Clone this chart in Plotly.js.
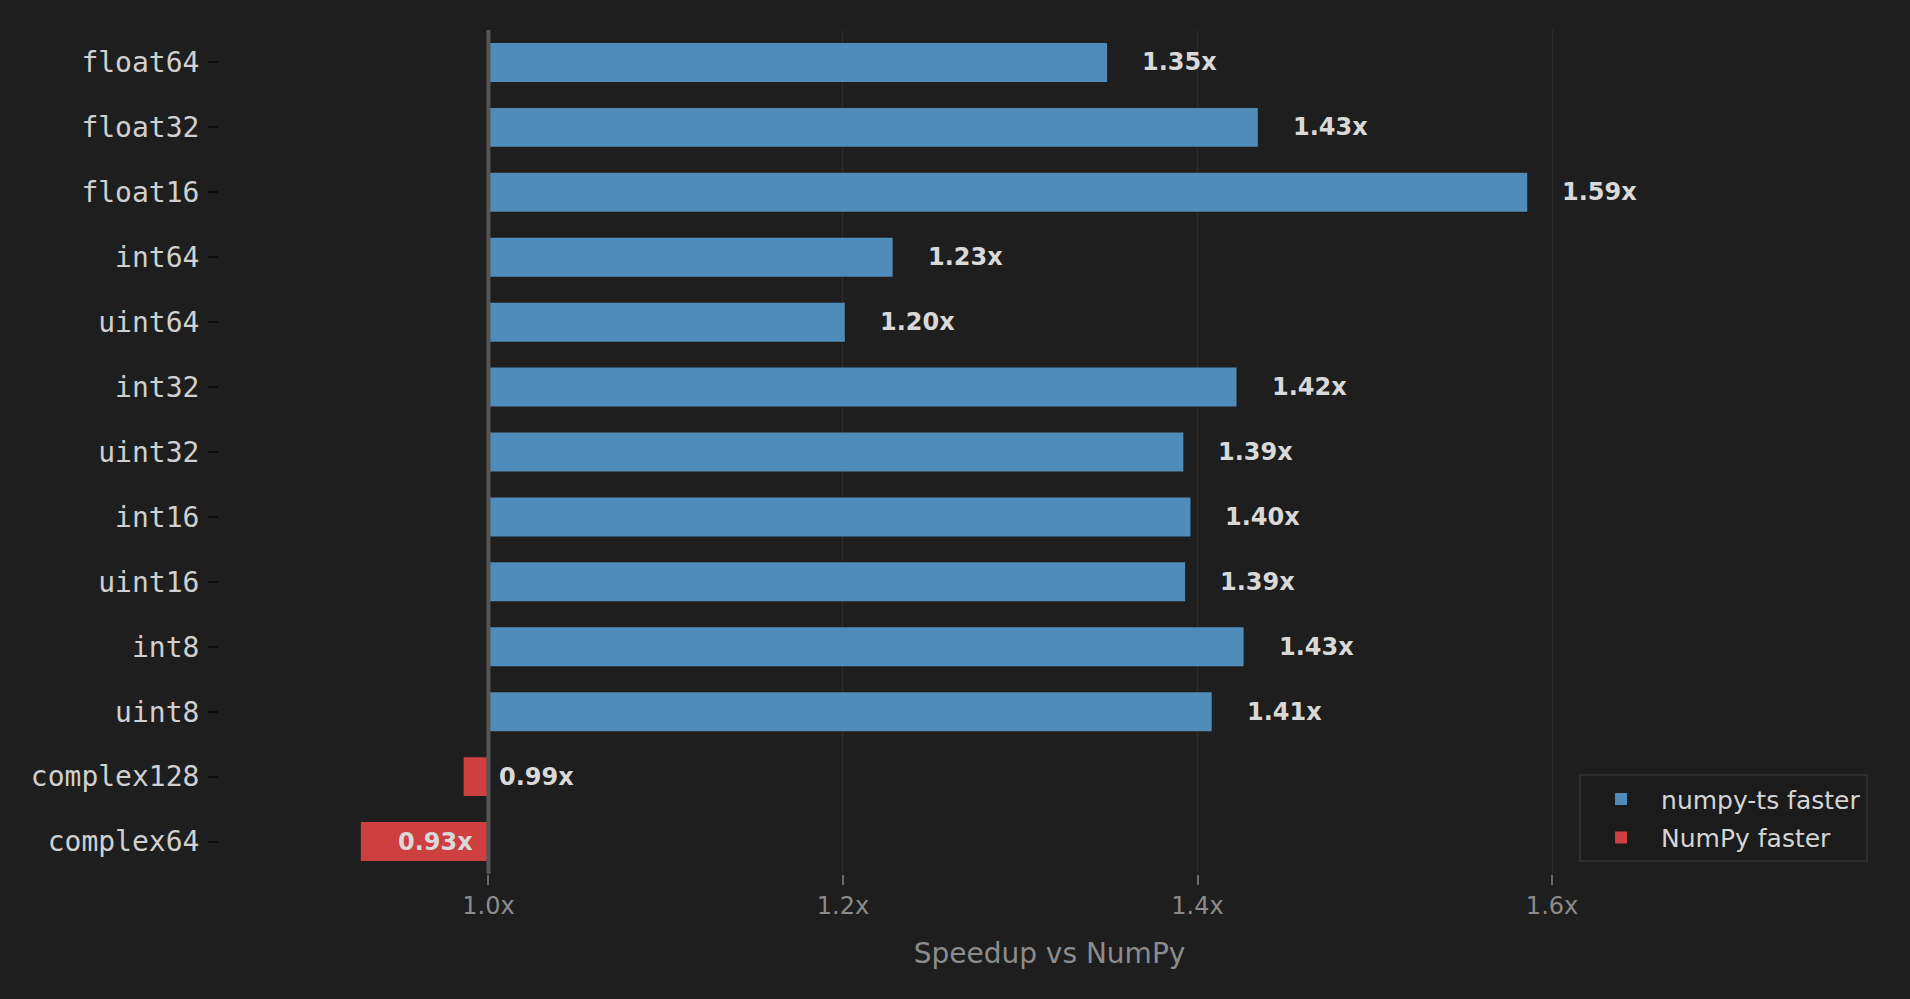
<!DOCTYPE html>
<html>
<head>
<meta charset="utf-8">
<script src="https://cdn.plot.ly/plotly-3.0.1.min.js"></script>
<style>
  html, body { margin: 0; padding: 0; background: #1e1e1e; }
  #speedup-chart { width: 1910px; height: 999px; }
</style>
</head>
<body>
<div id="speedup-chart"></div>
<script>
// Data
const dtypes = ["float64", "float32", "float16", "int64", "uint64", "int32", "uint32",
  "int16", "uint16", "int8", "uint8", "complex128", "complex64"];
const speedups = [1.349, 1.434, 1.586, 1.228, 1.201, 1.422, 1.392,
  1.396, 1.393, 1.426, 1.408, 0.986, 0.928];
const speedupLabels = ["1.35x", "1.43x", "1.59x", "1.23x", "1.20x", "1.42x", "1.39x",
  "1.40x", "1.39x", "1.43x", "1.41x", "0.99x", "0.93x"];
const xTickValues = [1.0, 1.2, 1.4, 1.6];
const xTickLabels = ["1.0x", "1.2x", "1.4x", "1.6x"];
const seriesNames = ["numpy-ts faster", "NumPy faster"];

const BASELINE = 1.0;
const CHART_ID = "speedup-chart";

// Colours
const FASTER_COLOR = "#4f8cb9";
const SLOWER_COLOR = "#ce3f3f";
const BG_COLOR = "#1e1e1e";

// one trace per legend entry, bars drawn from the 1.0x baseline
function makeTrace(name, color, keep) {
  const y = [];
  const x = [];
  dtypes.forEach((d, i) => {
    if (keep(speedups[i])) {
      y.push(d);
      x.push(speedups[i] - BASELINE);
    }
  });
  return {
    type: "bar",
    orientation: "h",
    name: name,
    legendgroup: name,
    y: y,
    x: x,
    base: BASELINE,
    width: 0.6,
    marker: { color: color, line: { width: 0 } },
    hoverinfo: "skip",
  };
}

const traces = [
  makeTrace(seriesNames[0], FASTER_COLOR, (v) => v >= BASELINE),
  makeTrace(seriesNames[1], SLOWER_COLOR, (v) => v < BASELINE),
];

// value labels
const annotations = dtypes.map((d, i) => {
  const v = speedups[i];
  const ann = {
    y: d,
    yref: "y",
    xref: "x",
    text: speedupLabels[i],
    showarrow: false,
    font: { family: "DejaVu Sans", size: 24, color: "#d9d9d9", weight: "bold" },
    yanchor: "middle",
  };
  if (v >= BASELINE) {
    ann.x = v;
    ann.xanchor = "left";
    ann.xshift = 33;
  } else if (BASELINE - v < 0.03) {
    // bar too short, label goes to the right of the baseline
    ann.x = BASELINE;
    ann.xanchor = "left";
    ann.xshift = 9;
  } else {
    ann.x = BASELINE;
    ann.xanchor = "right";
    ann.xshift = -13;
  }
  return ann;
});

const layout = {
  width: 1910,
  height: 999,
  paper_bgcolor: BG_COLOR,
  plot_bgcolor: BG_COLOR,
  margin: { l: 219, r: 30, t: 30, b: 125 },
  barmode: "overlay",
  showlegend: true,
  legend: {
    x: 0.9928,
    y: 0.014,
    xanchor: "right",
    yanchor: "bottom",
    bgcolor: "#1b1b1b",
    bordercolor: "#2e2e2e",
    borderwidth: 2,
    itemwidth: 70,
    font: { family: "DejaVu Sans", size: 25, color: "#d4d4d4" },
    traceorder: "grouped",
    tracegroupgap: 3,
  },
  xaxis: {
    range: [0.848, 1.785],
    tickvals: xTickValues,
    ticktext: xTickLabels,
    tickfont: { family: "DejaVu Sans", size: 24, color: "#8c8c8c" },
    ticks: "outside",
    ticklen: 10,
    tickwidth: 2,
    tickcolor: "#6a6a6a",
    showgrid: true,
    gridcolor: "#2c2c2c",
    gridwidth: 1,
    zeroline: false,
    showline: false,
    title: {
      text: "Speedup vs NumPy",
      font: { family: "DejaVu Sans", size: 28, color: "#8c8c8c" },
      standoff: 24,
    },
  },
  yaxis: {
    type: "category",
    categoryorder: "array",
    categoryarray: dtypes,
    range: [12.5, -0.5],
    tickfont: { family: "DejaVu Sans Mono", size: 28, color: "#d0d0d0" },
    ticks: "outside",
    ticklen: 10,
    tickwidth: 2,
    tickcolor: "#0c0c0c",
    ticklabelstandoff: 3,
    showgrid: false,
    zeroline: false,
    showline: false,
  },
  shapes: [
    {
      type: "line",
      xref: "x",
      yref: "paper",
      x0: BASELINE,
      x1: BASELINE,
      y0: 0,
      y1: 1,
      layer: "above",
      line: { color: "#555555", width: 4 },
    },
  ],
  annotations: annotations,
};

const config = { displayModeBar: false, responsive: false };

Plotly.newPlot(CHART_ID, traces, layout, config);
</script>
</body>
</html>
